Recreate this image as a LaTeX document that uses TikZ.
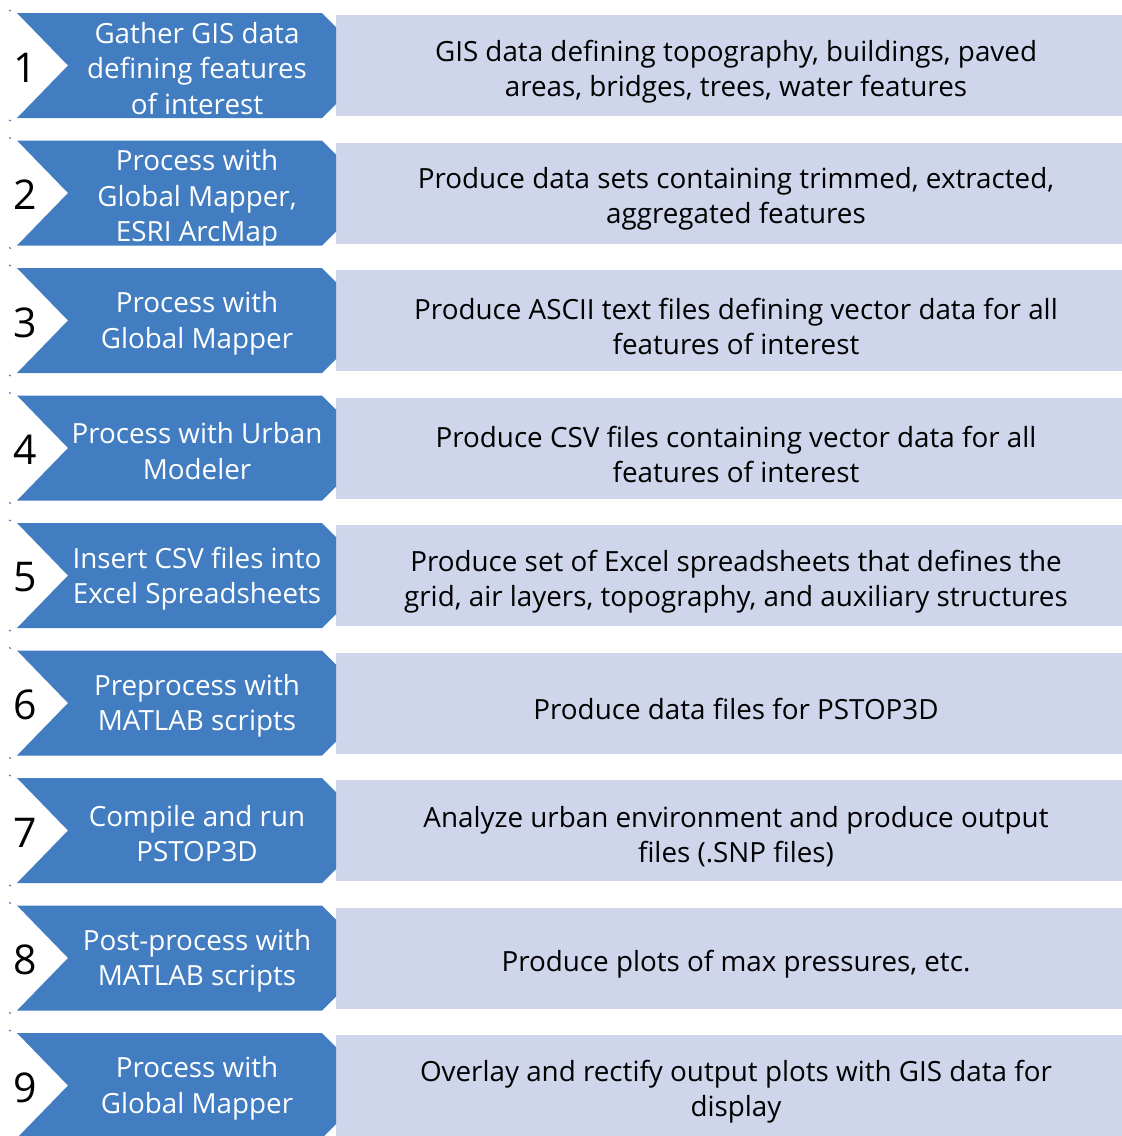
\documentclass[tikz,border=0pt]{standalone}
\usepackage{fontspec}
\setmainfont{Open Sans}
\definecolor{chevblue}{HTML}{417DC0}
\definecolor{panel}{HTML}{CFD5EA}
\begin{document}
\begin{tikzpicture}[x=1pt,y=-1pt,
  chev/.style={fill=chevblue,draw=none},
  panelbox/.style={fill=panel,draw=none},
  chevtext/.style={text=white,align=center,inner sep=0pt,font=\fontsize{27.8}{35.5}\selectfont},
  paneltext/.style={text=black,align=center,inner sep=0pt,font=\fontsize{27.8}{35}\selectfont},
  numtext/.style={text=black,inner sep=0pt,font=\fontsize{41}{41}\selectfont},
  tick/.style={draw=chevblue,line width=1pt}]
\useasboundingbox (0,0) rectangle (1122,1136);
\foreach \n/\dy/\lt/\rt in {
 1/3/{Gather GIS data\\defining features\\of interest}/{GIS data defining topography, buildings, paved\\areas, bridges, trees, water features},
 2/6/{Process with\\Global Mapper,\\ESRI ArcMap}/{Produce data sets containing trimmed, extracted,\\aggregated features},
 3/3/{Process with\\Global Mapper}/{Produce ASCII text files defining vector data for all\\features of interest},
 4/3/{Process with Urban\\Modeler}/{Produce CSV files containing vector data for all\\features of interest},
 5/3/{Insert CSV files into\\Excel Spreadsheets}/{Produce set of Excel spreadsheets that defines the\\grid, air layers, topography, and auxiliary structures},
 6/3/{Preprocess with\\MATLAB scripts}/{Produce data files for PSTOP3D},
 7/3/{Compile and run\\PSTOP3D}/{Analyze urban environment and produce output\\files (.SNP files)},
 8/3/{Post-process with\\MATLAB scripts}/{Produce plots of max pressures, etc.},
 9/3/{Process with\\Global Mapper}/{Overlay and rectify output plots with GIS data for\\display}}{
  \pgfmathsetmacro{\t}{13+(\n-1)*127.5}
  \pgfmathsetmacro{\b}{\t+105}
  \pgfmathsetmacro{\m}{\t+52.5}
  % description panel
  \path[panelbox] (336,\t+2) rectangle (1122,\b-2);
  % chevron with notched left side and snipped right corners
  \path[chev] (17,\t) -- (322,\t) -- (336,\t+14) -- (336,\b-14) -- (322,\b) -- (17,\b) -- (68,\m) -- cycle;
  \path[tick] (9,\t-3) -- (11,\t-2);
  \path[tick] (9,\b+2) -- (11,\b+3);
  \node[numtext] (num\n) at (25,\m+2) {\n};
  \node[chevtext] (step\n) at (197,\m+\dy) {\lt};
  \node[paneltext] (desc\n) at (736,\m+6) {\rt};
}
\end{tikzpicture}
\end{document}
